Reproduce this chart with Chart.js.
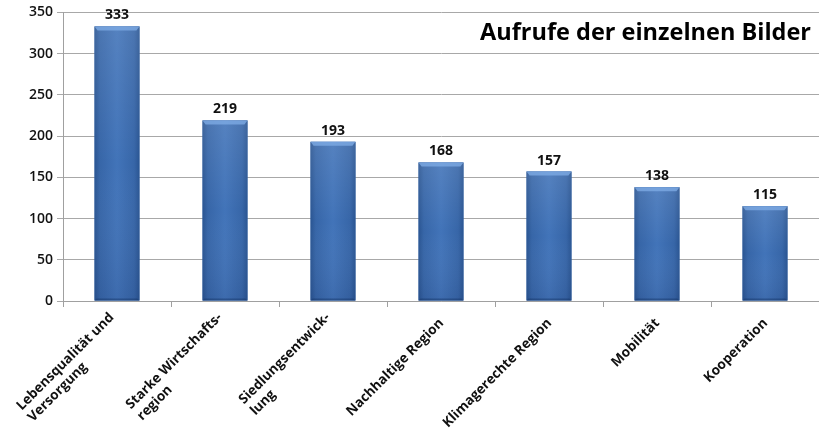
<!DOCTYPE html>
<html><head><meta charset="utf-8">
<script src="https://cdn.jsdelivr.net/npm/chart.js@4/dist/chart.umd.min.js"></script>
<style>html,body{margin:0;padding:0;background:#fff}#wrap{width:819px;height:435px;position:relative}</style>
</head><body><div id="wrap"><canvas id="c"></canvas></div>
<script>
const categories = [["Lebensqualität und","Versorgung"],["Starke Wirtschafts-","region"],["Siedlungsentwick-","lung"],"Nachhaltige Region","Klimagerechte Region","Mobilität","Kooperation"];
const views = [333,219,193,168,157,138,115];
const yTicks = [0,50,100,150,200,250,300,350];
const chartTitle = "Aufrufe der einzelnen Bilder";

const FONT = "'Open Sans', 'Noto Sans', sans-serif";

const barStyle = {
  id: 'barStyle',
  afterDatasetsDraw(chart) {
    const ctx = chart.ctx;
    chart.getDatasetMeta(0).data.forEach(el => {
      const p = el.getProps(['x','y','base','width'], true);
      const l = p.x - p.width/2, r = p.x + p.width/2, t = p.y, b = p.base, w = p.width;
      ctx.save();
      const g = ctx.createLinearGradient(l,0,r,0);
      g.addColorStop(0,'#2a5592');
      g.addColorStop(0.12,'#3766a8');
      g.addColorStop(0.5,'#4274b9');
      g.addColorStop(0.88,'#3766a8');
      g.addColorStop(1,'#2a5592');
      ctx.fillStyle = g;
      ctx.fillRect(l,t,w,b-t);
      const v = ctx.createLinearGradient(0,t,0,b);
      v.addColorStop(0,'rgba(255,255,255,0.10)');
      v.addColorStop(0.5,'rgba(255,255,255,0.0)');
      v.addColorStop(1,'rgba(0,0,40,0.08)');
      ctx.fillStyle = v;
      ctx.fillRect(l,t,w,b-t);
      // top bevel
      ctx.beginPath();
      ctx.moveTo(l,t); ctx.lineTo(r,t); ctx.lineTo(r-3,t+4); ctx.lineTo(l+3,t+4); ctx.closePath();
      ctx.fillStyle = 'rgba(125,170,228,0.8)';
      ctx.fill();
      // bottom bevel
      ctx.beginPath();
      ctx.moveTo(l,b); ctx.lineTo(r,b); ctx.lineTo(r-2,b-2); ctx.lineTo(l+2,b-2); ctx.closePath();
      ctx.fillStyle = 'rgba(20,50,100,0.45)';
      ctx.fill();
      ctx.restore();
    });
  }
};

const valueLabels = {
  id: 'valueLabels',
  afterDatasetsDraw(chart) {
    const ctx = chart.ctx;
    ctx.save();
    ctx.font = "bold 14px " + FONT;
    ctx.fillStyle = '#111';
    ctx.textAlign = 'center';
    ctx.textBaseline = 'alphabetic';
    chart.getDatasetMeta(0).data.forEach((el, i) => {
      ctx.fillText(String(views[i]), el.x, el.y - 7);
    });
    ctx.restore();
  }
};

const xLabels = {
  id: 'xLabels',
  afterDraw(chart) {
    const ctx = chart.ctx;
    const s = chart.scales.x;
    ctx.save();
    ctx.font = "bold 13.5px " + FONT;
    ctx.fillStyle = '#111';
    ctx.textBaseline = 'middle';
    ctx.textAlign = 'left';
    const lh = 16;
    s.ticks.forEach((t, i) => {
      const lab = categories[i];
      const lines = Array.isArray(lab) ? lab : [lab];
      const maxW = Math.max(...lines.map(l => ctx.measureText(l).width));
      const x = s.getPixelForTick(i);
      ctx.save();
      ctx.translate(x + 0.5, s.top + 20);
      ctx.rotate(-Math.PI / 4);
      lines.forEach((ln, j) => {
        ctx.fillText(ln, -maxW, (j - (lines.length - 1) / 2) * lh);
      });
      ctx.restore();
    });
    ctx.restore();
  }
};

const titleText = {
  id: 'titleText',
  afterDraw(chart) {
    const ctx = chart.ctx;
    ctx.save();
    ctx.font = "bold 23.5px " + FONT;
    ctx.fillStyle = '#000';
    ctx.textAlign = 'right';
    ctx.textBaseline = 'alphabetic';
    ctx.fillText(chartTitle, chart.chartArea.right - 8, 40);
    ctx.restore();
  }
};

new Chart(document.getElementById('c'), {
  type: 'bar',
  data: {
    labels: categories,
    datasets: [{ data: views, backgroundColor: '#3a6aad', borderWidth: 0, barPercentage: 0.52, categoryPercentage: 0.8 }]
  },
  options: {
    responsive: true,
    maintainAspectRatio: false,
    animation: false,
    layout: { padding: { top: 12, right: 0, left: 0, bottom: 0 } },
    plugins: { legend: { display: false }, tooltip: { enabled: false } },
    scales: {
      x: {
        offset: true,
        grid: { display: true, offset: true, drawOnChartArea: false, color: '#a0a0a0', tickLength: 6 },
        border: { color: '#a0a0a0' },
        ticks: { display: false },
        afterFit(s) { s.height = 134; }
      },
      y: {
        min: 0, max: 350,
        afterBuildTicks(s) { s.ticks = yTicks.map(v => ({ value: v })); },
        grid: { color: '#a8a8a8', tickLength: 6 },
        border: { color: '#a0a0a0' },
        ticks: { color: '#111', font: { family: FONT, size: 14, weight: '600' }, padding: 4 },
        afterFit(s) { s.width = 63; }
      }
    }
  },
  plugins: [barStyle, valueLabels, xLabels, titleText]
});
</script>
</body></html>
